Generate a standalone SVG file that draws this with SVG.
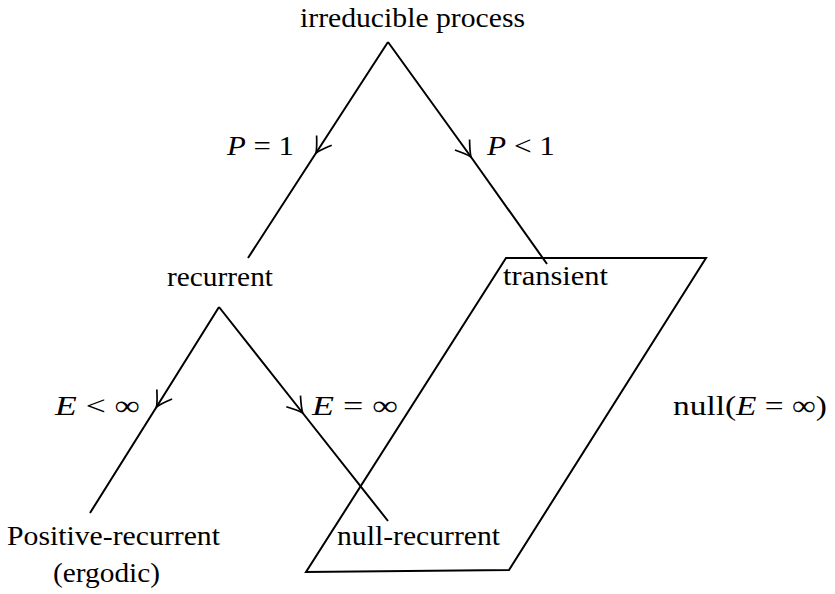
<svg xmlns="http://www.w3.org/2000/svg" width="835" height="594" viewBox="0 0 835 594">
<defs>
<style>
text{font-family:"Liberation Serif","Times New Roman",serif;font-size:28px;fill:#000}
.it{font-style:italic}
.ln{fill:none;stroke:#000;stroke-width:2;stroke-linejoin:miter}
</style>
<marker id="ah" markerUnits="userSpaceOnUse" markerWidth="40" markerHeight="40" viewBox="-20 -20 40 40" refX="0" refY="0" orient="auto" overflow="visible">
<path d="M -15,-9 Q -5,-2 0,0 Q -5,2 -15,9" fill="none" stroke="#000" stroke-width="1.7"/>
</marker>
</defs>
<rect width="835" height="594" fill="#fff"/>
<g id="connectors">
<polyline class="ln" points="388,42 316,153 248,258" marker-mid="url(#ah)"/>
<polyline class="ln" points="388,42 471,157 547,264" marker-mid="url(#ah)"/>
<polyline class="ln" points="219,307 156.5,407 90,513" marker-mid="url(#ah)"/>
<polyline class="ln" points="219,307 302.7,413 388,521" marker-mid="url(#ah)"/>
<text x="227" y="155" textLength="67" lengthAdjust="spacingAndGlyphs"><tspan class="it">P</tspan> = 1</text>
<text x="487" y="155" textLength="68" lengthAdjust="spacingAndGlyphs"><tspan class="it">P</tspan> &lt; 1</text>
<text x="55" y="415" textLength="85" lengthAdjust="spacingAndGlyphs"><tspan class="it">E</tspan> &lt; ∞</text>
<text x="312" y="415" textLength="86" lengthAdjust="spacingAndGlyphs"><tspan class="it">E</tspan> = ∞</text>
</g>
<g id="null-region">
<polygon class="ln" points="506,258 706,258 509,570 306,572"/>
<text x="673" y="415" textLength="154" lengthAdjust="spacingAndGlyphs">null(<tspan class="it">E</tspan> = ∞)</text>
</g>
<g id="irreducible">
<text x="300" y="27" textLength="225" lengthAdjust="spacingAndGlyphs">irreducible process</text>
</g>
<g id="recurrent">
<text x="167" y="286" textLength="106" lengthAdjust="spacingAndGlyphs">recurrent</text>
</g>
<g id="transient">
<text x="503" y="285" textLength="105" lengthAdjust="spacingAndGlyphs">transient</text>
</g>
<g id="positive-recurrent">
<text x="7" y="545" textLength="213" lengthAdjust="spacingAndGlyphs">Positive-recurrent</text>
<text x="53" y="582" textLength="107" lengthAdjust="spacingAndGlyphs">(ergodic)</text>
</g>
<g id="null-recurrent">
<text x="337" y="545" textLength="163" lengthAdjust="spacingAndGlyphs">null-recurrent</text>
</g>
</svg>
